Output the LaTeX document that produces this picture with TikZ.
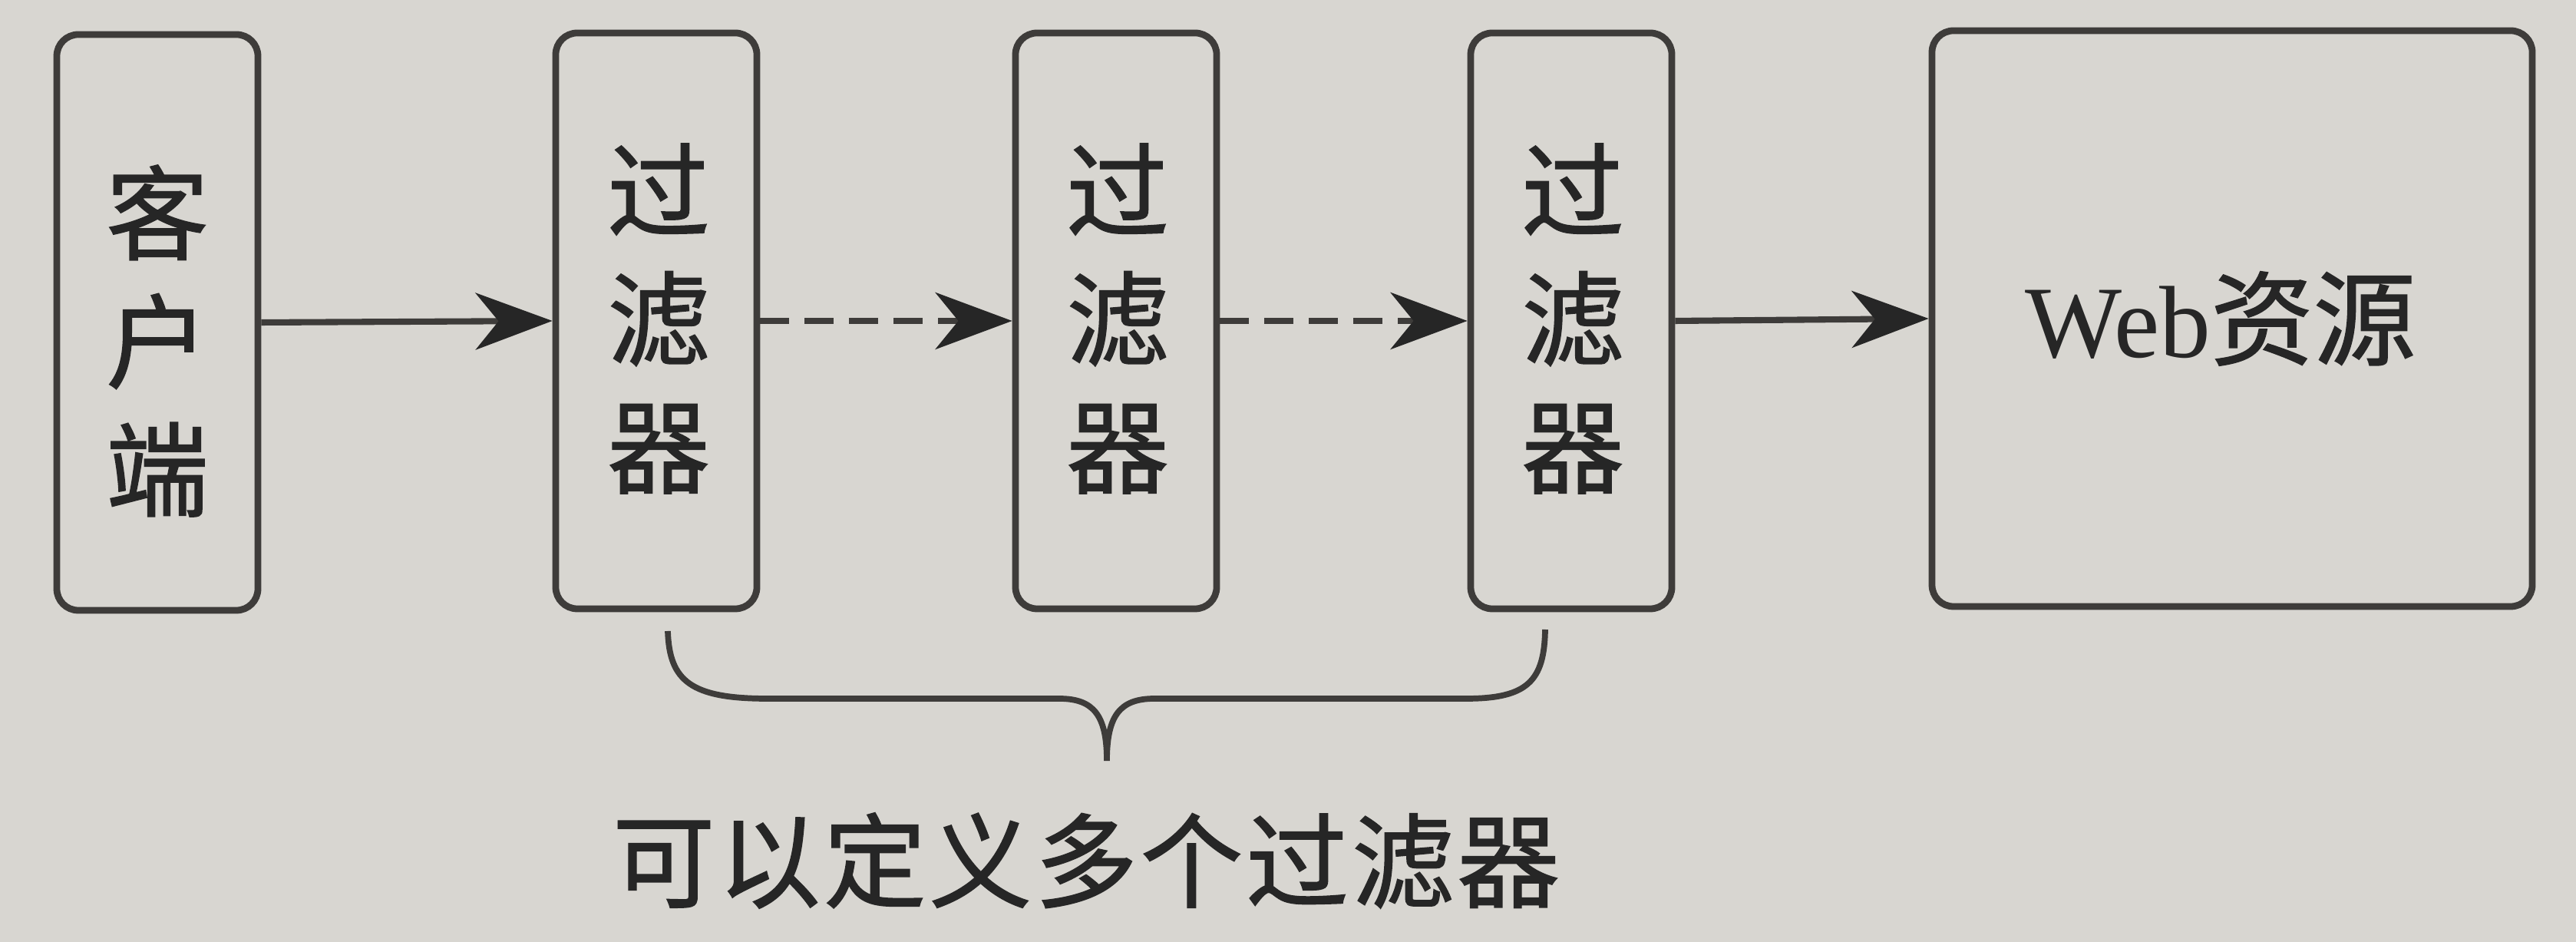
\documentclass[tikz,border=0pt]{standalone}
\usepackage{fontspec}
\setmainfont{Liberation Serif}
\newfontfamily\cjk[FakeBold=1.2]{Noto Sans CJK SC}
\newfontfamily\cjkls[LetterSpace=3,FakeBold=1.2]{Noto Sans CJK SC}
\usetikzlibrary{arrows.meta}
\definecolor{bg}{RGB}{216,214,209}
\definecolor{ink}{RGB}{62,60,58}
\definecolor{txt}{RGB}{38,38,38}
\tikzset{
  box/.style={draw=ink, line width=2.5pt, rounded corners=0.28cm, minimum height=7.5cm, inner sep=0pt},
  narrowbox/.style={box, minimum width=2.62cm},
  vtext/.style={text=txt, align=center, font=\cjk\fontsize{38pt}{47.5pt}\selectfont, inner sep=0pt},
  flow/.style={draw=ink, line width=2.3pt, -{Stealth[length=1.0cm, width=0.74cm, inset=0.3cm, color=black!85]}},
  dflow/.style={flow, dash pattern=on 0.38cm off 0.2cm},
}
\begin{document}
\begin{tikzpicture}
\fill[bg] (0,0) rectangle (33.56,12.27);
\useasboundingbox (0,0) rectangle (33.56,12.27);

\node[narrowbox] (client) at (2.05,8.07) {};
\node[vtext] (clienttext) at (2.05,7.83) {客\\户\\端};
\node[narrowbox] (f1) at (8.55,8.09) {};
\node[vtext] (f1text) at (8.58,8.12) {过\\滤\\器};
\node[narrowbox] (f2) at (14.54,8.09) {};
\node[vtext] (f2text) at (14.56,8.12) {过\\滤\\器};
\node[narrowbox] (f3) at (20.47,8.09) {};
\node[vtext] (f3text) at (20.49,8.12) {过\\滤\\器};
\node[box, minimum width=7.82cm] (web) at (29.08,8.12) {};
\node[text=txt, inner sep=0pt, font=\fontsize{38pt}{44pt}\selectfont] (webtext) at (28.93,8.12) {Web{\cjk 资源}};

\draw[flow] (client.east) -- (f1.west);
\draw[dflow] (f1.east) -- (f2.west);
\draw[dflow] (f2.east) -- (f3.west);
\draw[flow] (f3.east) -- (web.west);

\coordinate (bl) at (8.70,4.05);
\coordinate (br) at (20.13,4.07);
\coordinate (btip) at (14.42,2.36);
\draw[ink, line width=2.2pt]
  (bl) .. controls (8.72,3.40) and (9.00,3.17) .. (10.00,3.17)
  -- (13.80,3.17) .. controls (14.25,3.17) and (14.42,2.95) .. (btip)
  .. controls (14.42,2.95) and (14.59,3.17) .. (15.04,3.17)
  -- (19.10,3.17) .. controls (19.90,3.17) and (20.12,3.40) .. (br);

\node[text=txt, font=\cjkls\fontsize{38pt}{44pt}\selectfont, inner sep=0pt] (caption) at (14.15,1.06) {可以定义多个过滤器};
\end{tikzpicture}
\end{document}
